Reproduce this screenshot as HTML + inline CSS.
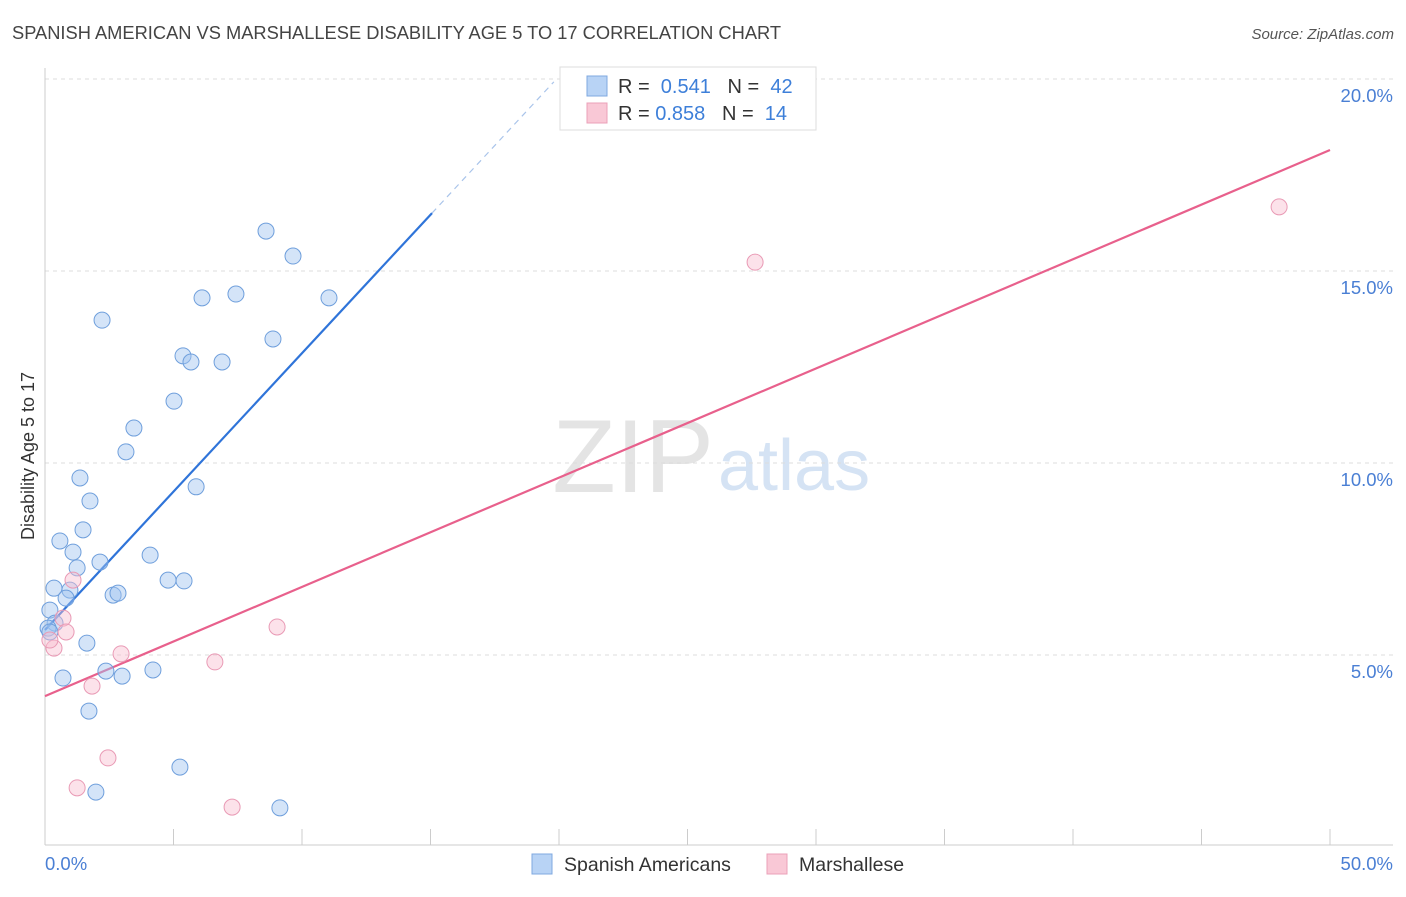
<!DOCTYPE html>
<html><head><meta charset="utf-8"><style>
body{margin:0;background:#fff;font-family:"Liberation Sans",sans-serif;}
svg text{font-family:"Liberation Sans",sans-serif;}
</style></head><body>
<svg id="chart" width="1406" height="892" viewBox="0 0 1406 892" xmlns="http://www.w3.org/2000/svg">
<text x="12" y="39" font-size="18.3" fill="#444">SPANISH AMERICAN VS MARSHALLESE DISABILITY AGE 5 TO 17 CORRELATION CHART</text>
<text x="1394" y="39" font-size="15" fill="#555" font-style="italic" text-anchor="end">Source: ZipAtlas.com</text>
<text x="714" y="492" font-size="104" fill="#e4e4e4" text-anchor="end" font-family="Liberation Serif">ZIP</text>
<text x="718" y="490" font-size="72" fill="#d5e3f4">atlas</text>
<g id="grid"></g>
<g id="axes"></g>
<g id="lines"></g>
<g id="points"></g>
<text x="34" y="456" font-size="18" fill="#333" text-anchor="middle" transform="rotate(-90 34 456)">Disability Age 5 to 17</text>
<text x="45" y="870" font-size="18.5" fill="#4a7fd4">0.0%</text>
<text x="1393" y="870" font-size="18.5" fill="#4a7fd4" text-anchor="end">50.0%</text>
<g>
<rect x="560" y="67" width="256" height="63" fill="#fff" stroke="#ddd"/>
<rect x="587" y="76" width="20" height="20" fill="#b8d3f5" stroke="#7fa8e0"/>
<rect x="587" y="103" width="20" height="20" fill="#f9c8d6" stroke="#eba0b8"/>
<text x="618" y="93" font-size="20" fill="#333">R = <tspan fill="#3d7fd9">&#160;0.541</tspan>&#160;&#160;&#160;N = <tspan fill="#3d7fd9">&#160;42</tspan></text>
<text x="618" y="120" font-size="20" fill="#333">R = <tspan fill="#3d7fd9">0.858</tspan>&#160;&#160;&#160;N = <tspan fill="#3d7fd9">&#160;14</tspan></text>
</g>
<g>
<rect x="532" y="854" width="20" height="20" fill="#b8d3f5" stroke="#7fa8e0"/>
<text x="564" y="871" font-size="19.5" fill="#333">Spanish Americans</text>
<rect x="767" y="854" width="20" height="20" fill="#f9c8d6" stroke="#eba0b8"/>
<text x="799" y="871" font-size="19.5" fill="#333">Marshallese</text>
</g>
</svg>
<script>
const yTicks=[5,10,15,20];
const yTickLabels=["5.0%","10.0%","15.0%","20.0%"];
const blueX=[8.6,9.65,2.22,6.11,7.43,11.05,8.87,5.37,5.68,6.89,5.02,3.46,3.15,1.36,1.75,5.88,1.48,0.58,1.09,4.09,2.14,1.25,0.35,0.97,0.82,2.65,2.84,4.79,5.41,0.19,0.39,0.12,1.63,2.37,3.0,4.2,0.7,1.71,5.25,1.98,9.14,0.19];
const blueY=[16.04,15.39,13.72,14.3,14.4,14.3,13.23,12.79,12.63,12.63,11.61,10.91,10.29,9.61,9.01,9.38,8.26,7.97,7.68,7.6,7.42,7.27,6.74,6.69,6.48,6.56,6.61,6.95,6.93,6.17,5.83,5.7,5.31,4.58,4.45,4.61,4.4,3.54,2.08,1.43,1.02,5.6];
const pinkX=[48.02,27.63,9.03,6.61,2.96,1.09,0.7,0.82,0.35,1.83,2.45,1.25,7.28,0.19];
const pinkY=[16.67,15.23,5.73,4.82,5.03,6.95,5.96,5.6,5.18,4.19,2.32,1.54,1.04,5.39];
const blueLine=[5.65,0.721];
const pinkLine=[3.93,0.2844];
const NS="http://www.w3.org/2000/svg";
const sx=v=>45+v*25.7, sy=v=>847-v*38.4;
function mk(p,t,a){const e=document.createElementNS(NS,t);for(const k in a)e.setAttribute(k,a[k]);p.appendChild(e);return e;}
const grid=document.getElementById('grid'),axes=document.getElementById('axes'),lines=document.getElementById('lines'),pts=document.getElementById('points'),svg=document.getElementById('chart');
yTicks.forEach((t,i)=>{
 const g=mk(grid,'line',{x1:45,x2:1393,y1:sy(t),y2:sy(t),stroke:'#ddd','stroke-dasharray':'4,4'});
 
 
 const tx=mk(svg,'text',{x:1393,y:sy(t)+23,'font-size':18.5,fill:'#4a7fd4','text-anchor':'end'});
 tx.textContent=yTickLabels[i];
 
 
});
mk(axes,'line',{x1:45,x2:45,y1:68,y2:845,stroke:'#ccc'});
mk(axes,'line',{x1:45,x2:1393,y1:845,y2:845,stroke:'#ccc'});
for(let i=0;i<=10;i++){const x=sx(i*5);const t=mk(axes,'line',{x1:x,x2:x,y1:829,y2:845,stroke:'#ccc'});
 
 }
const bx1=0,bx2=15.06,bx3=19.8;
let l=mk(lines,'line',{x1:sx(bx1),y1:sy(blueLine[0]),x2:sx(bx2),y2:sy(blueLine[0]+blueLine[1]*bx2),stroke:'#2f74d9','stroke-width':2.2});


l=mk(lines,'line',{x1:sx(bx2),y1:sy(blueLine[0]+blueLine[1]*bx2),x2:sx(bx3),y2:sy(blueLine[0]+blueLine[1]*bx3),stroke:'#a9c4ea','stroke-width':1.2,'stroke-dasharray':'6,5'});


l=mk(lines,'line',{x1:sx(0),y1:sy(pinkLine[0]),x2:sx(50),y2:sy(pinkLine[0]+pinkLine[1]*50),stroke:'#e8608c','stroke-width':2.2});


blueX.forEach((v,i)=>{const c=mk(pts,'circle',{cx:sx(v),cy:sy(blueY[i]),r:8,fill:'rgba(160,195,240,0.45)',stroke:'#6f9fdc','stroke-width':1});
 
 });
pinkX.forEach((v,i)=>{const c=mk(pts,'circle',{cx:sx(v),cy:sy(pinkY[i]),r:8,fill:'rgba(248,190,208,0.45)',stroke:'#e99ab5','stroke-width':1});
 
 });
</script>
</body></html>
